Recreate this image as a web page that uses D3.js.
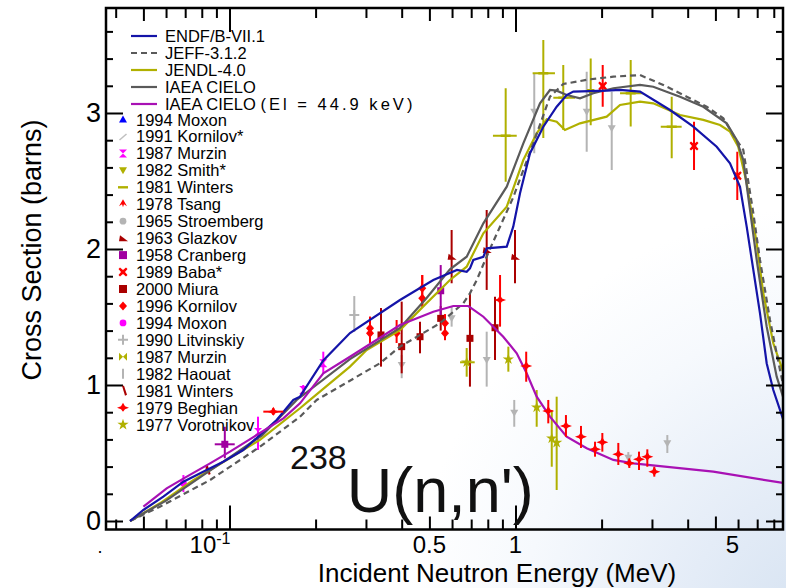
<!DOCTYPE html>
<html><head><meta charset="utf-8">
<script src="https://cdn.jsdelivr.net/npm/d3@7/dist/d3.min.js"></script>
<style>html,body{margin:0;padding:0;background:#fff}svg{display:block}</style>
</head><body>
<svg id="chart" width="786" height="588"></svg>
<script>
// ---------- evaluated curves [E (MeV), sigma (b)] ----------
const endfB71 = [[0.0449,0],[0.050,0.081],[0.0587,0.179],[0.069,0.289],[0.0832,0.375],[0.0951,0.436],[0.1117,0.522],[0.1278,0.632],[0.1462,0.743],[0.1672,0.89],[0.1764,0.914],[0.2128,1.18],[0.2638,1.382],[0.3946,1.625],[0.516,1.772],[0.6245,1.846],[0.675,1.833],[0.693,1.858],[0.712,1.919],[0.772,1.943],[0.793,2.005],[0.932,2.017],[0.982,2.164],[1.037,2.41],[1.124,2.704],[1.251,2.899],[1.393,3.046],[1.51,3.132],[1.593,3.157],[2.084,3.164],[2.32,3.17],[2.725,3.157],[3.47,3.022],[4.185,2.899],[5.052,2.752],[5.623,2.63],[6.095,2.458],[6.432,2.164],[6.785,1.846],[7.16,1.527],[7.555,1.16],[7.969,0.963],[8.616,0.75]];
const jeff312 = [[0.0449,0],[0.0571,0.105],[0.0855,0.301],[0.1278,0.546],[0.1764,0.767],[0.2018,0.89],[0.3358,1.16],[0.3946,1.282],[0.5445,1.454],[0.657,1.601],[0.693,1.674],[0.732,1.772],[0.814,2.0],[0.982,2.38],[1.154,2.777],[1.32,3.12],[1.469,3.213],[1.822,3.248],[2.198,3.267],[2.725,3.279],[3.288,3.206],[3.969,3.12],[4.662,3.046],[5.329,2.961],[5.774,2.838],[6.258,2.728],[6.785,2.263],[7.16,1.919],[7.76,1.478],[8.411,1.11],[8.63,1.0]];
const jendl40 = [[0.0449,0],[0.0571,0.13],[0.0747,0.301],[0.0977,0.449],[0.1278,0.596],[0.1764,0.829],[0.1912,0.89],[0.2638,1.135],[0.3017,1.257],[0.3946,1.404],[0.476,1.578],[0.59,1.772],[0.675,1.87],[0.772,2.115],[0.932,2.311],[1.065,2.654],[1.186,2.851],[1.286,2.954],[1.393,2.936],[1.489,2.875],[1.681,2.924],[2.084,2.973],[2.32,3.059],[2.725,3.083],[3.032,3.071],[3.76,2.985],[4.536,2.949],[5.188,2.912],[5.623,2.863],[6.011,2.752],[6.432,2.483],[6.973,2.042],[7.352,1.674],[7.969,1.307],[8.616,1.1]];
const cielo = [[0.0449,0],[0.06,0.15],[0.08,0.33],[0.1004,0.47],[0.13,0.63],[0.1718,0.89],[0.2638,1.19],[0.3946,1.42],[0.489,1.64],[0.59,1.85],[0.675,1.943],[0.772,2.189],[0.932,2.458],[1.065,2.777],[1.218,3.071],[1.32,3.169],[1.393,3.164],[1.51,3.132],[1.681,3.108],[1.871,3.145],[2.198,3.182],[2.725,3.206],[3.032,3.193],[3.76,3.12],[4.536,3.046],[5.476,2.924],[5.934,2.801],[6.258,2.654],[6.606,2.287],[6.973,1.919],[7.555,1.429],[8.19,1.061],[8.616,0.914]];
const cieloEl = [[0.050,0.105],[0.0603,0.24],[0.0709,0.326],[0.0855,0.424],[0.1004,0.51],[0.1245,0.632],[0.1543,0.755],[0.1764,0.865],[0.2128,1.086],[0.2638,1.208],[0.3946,1.441],[0.516,1.539],[0.606,1.581],[0.684,1.581],[0.772,1.502],[0.906,1.355],[1.01,1.233],[1.094,1.086],[1.186,0.914],[1.32,0.767],[1.51,0.62],[1.774,0.535],[2.198,0.449],[2.582,0.424],[3.201,0.404],[4.916,0.363],[8.616,0.28]];

// ---------- experimental data [E, sigma, sigLo, sigHi, (Elo, Ehi)] ----------
const kornilov1991 = [[1.163,3.01,2.704,3.292],[1.774,3.01,2.715,3.304],[2.17,2.888,2.581,3.157]];
const murzin1987m = [[0.1258,0.654,0.522,0.767],[0.2128,1.16,1.086,1.245],[0.181,0.963,0.92,1.0]];
const winters1981o = [[0.924,2.833,2.495,3.182,0.834,1.01],[1.251,3.292,2.816,3.537,1.148,1.374],[1.469,3.113,2.875,3.353,1.356,1.614],[2.528,3.145,2.9,3.39,2.32,2.79],[3.517,2.899,2.667,3.12,3.22,3.81]];
const smith1982 = [[1.832,3.154,2.91,3.40]];
const glazkov1963 = [[0.598,1.943,1.748,2.14],[0.793,1.993,1.699,2.287],[0.996,1.943,1.748,2.14]];
const cranberg1958 = [[0.5476,1.693,1.515,1.882],[0.0963,0.564,0.461,0.693,0.0888,0.1043]];
const baba1989 = [[2.018,3.199,3.046,3.353],[4.209,2.757,2.581,2.936],[5.963,2.539,2.36,2.715]];
const miura2000 = [[0.3386,1.368,1.135,1.566],[0.4,1.282,1.086,1.613],[0.4636,1.355,1.233,1.465],[0.5476,1.49,1.4,1.58],[0.693,1.343,0.988,1.674],[0.848,1.421,1.184,1.649]];
const kornilov1996 = [[0.31,1.417,1.307,1.502],[0.31,1.38,1.307,1.502],[0.384,1.38,1.309,1.478],[0.472,1.711,1.576,1.809],[0.472,1.638,1.576,1.809],[0.567,1.454,1.33,1.52],[0.567,1.38,1.33,1.52]];
const moxon1994c = [[0.069,0.277,0.213,0.338]];
const litvinskiy1990 = [[0.2731,1.515,1.39,1.654]];
const haouat1982 = [[0.4,1.147,1.05,1.22],[0.598,1.49,1.429,1.576],[0.793,1.184,0.988,1.392],[0.99,0.796,0.693,0.89],[2.48,0.465,0.426,0.507],[3.395,0.571,0.5,0.632]];
const winters1981r = [[0.0832,0.375,0.35,0.40]];
const beghian1979 = [[0.1423,0.804,0.78,0.83,0.1313,0.1543],[0.883,1.625,1.429,1.809],[1.09,1.14,1.024,1.245],[1.302,0.809,0.718,0.89],[1.501,0.699,0.62,0.779],[1.694,0.62,0.537,0.699],[1.897,0.527,0.473,0.583],[2.012,0.579,0.51,0.647],[2.288,0.49,0.412,0.574],[2.5,0.424,0.39,0.46],[2.703,0.454,0.375,0.51],[2.89,0.473,0.399,0.527],[3.057,0.3625,0.326,0.399]];
const vorotnikov1977 = [[0.675,1.167,1.061,1.272,0.64,0.72],[0.944,1.189,1.098,1.282],[1.186,0.836,0.693,0.963],[1.339,0.608,0.399,0.816],[1.393,0.576,0.228,0.914]];

// ---------- labels ----------
const lineNames = ["ENDF/B-VII.1","JEFF-3.1.2","JENDL-4.0","IAEA CIELO",["IAEA CIELO ","(El = 44.9 keV)"]];
const markerNames = ["1994 Moxon","1991 Kornilov*","1987 Murzin","1982 Smith*","1981 Winters","1978 Tsang","1965 Stroemberg","1963 Glazkov","1958 Cranberg","1989 Baba*","2000 Miura","1996 Kornilov","1994 Moxon","1990 Litvinskiy","1987 Murzin","1982 Haouat","1981 Winters","1979 Beghian","1977 Vorotnikov"];
const yTicks = [0,1,2,3];
const xLabels = [[0.1,"10","-1"],[0.5,"0.5"],[1,"1"],[5,"5"]];
const xTitle = "Incident Neutron Energy (MeV)";
const yTitle = "Cross Section (barns)";

// ---------- drawing ----------
const svg = d3.select("#chart");
const W=786,H=588, L=106,R=783,T=8,B=529.5;
const x = d3.scaleLog().domain([0.037,8.616]).range([L,R]);
const y = d3.scaleLinear().domain([-0.0625,3.772]).range([B,T]);
const FONT = "'Liberation Sans', Arial, Helvetica, sans-serif";

const defs = svg.append("defs");
const grad = defs.append("radialGradient").attr("id","bg").attr("gradientUnits","userSpaceOnUse")
  .attr("cx",840).attr("cy",640).attr("r",640);
grad.append("stop").attr("offset","0").attr("stop-color","#d2e0f0");
grad.append("stop").attr("offset","0.25").attr("stop-color","#e4ecf7");
grad.append("stop").attr("offset","0.5").attr("stop-color","#f6f9fd");
grad.append("stop").attr("offset","0.68").attr("stop-color","#ffffff");
svg.append("rect").attr("width",W).attr("height",H).attr("fill","url(#bg)");
defs.append("clipPath").attr("id","clip").append("rect").attr("x",L).attr("y",T).attr("width",R-L).attr("height",B-T);

const plot = svg.append("g").attr("clip-path","url(#clip)");
const line = d3.line().x(d=>x(d[0])).y(d=>y(d[1]));

const curves = [
  {d:jendl40, c:"#b0b000", dash:null},
  {d:jeff312, c:"#5a5a5a", dash:"6,4"},
  {d:cielo, c:"#5a5a5a", dash:null},
  {d:endfB71, c:"#1414a8", dash:null},
  {d:cieloEl, c:"#a811b4", dash:null}
];

const S = {
  triUp: "M0,-4L4,3L-4,3Z",
  triDown: "M0,4L4,-3L-4,-3Z",
  slash: "M-4,3L3,-3L4,-2L-3,4Z",
  bowV: "M-4,-4L4,-4L-4,4L4,4Z",
  bowH: "M-4,-4L-4,4L4,-4L4,4Z",
  dash: "M-5,-1.2H5V1.2H-5Z",
  arrow: "M0,-5L4,2L1,0L0,3L-1,0L-4,2Z",
  circle: d3.symbol(d3.symbolCircle,36)(),
  half: "M-4,3L5,3L-3,-3Z",
  square: "M-4,-4H4V4H-4Z",
  sqS: "M-3.5,-3.5H3.5V3.5H-3.5Z",
  xcross: "M-4.5,-3L-3,-4.5L0,-2L3,-4.5L4.5,-3L2,0L4.5,3L3,4.5L0,2L-3,4.5L-4.5,3L-2,0Z",
  diamond: "M0,-4.5L4,0L0,4.5L-4,0Z",
  plus: "M-5,-1H-1V-5H1V-1H5V1H1V5H-1V1H-5Z",
  vbar: "M-1,-5H1V5H-1Z",
  sbar: "M-1,-5L1,-5L4,4L2,5Z",
  hat: "M-6,0L-2,-1.5L0,-5L2,-1.5L6,0L2,1.5L0,4L-2,1.5Z",
  star: d3.symbol(d3.symbolStar,40)()
};

function drawLine(c){
  const p = plot.append("path").attr("d",line(c.d)).attr("fill","none").attr("stroke",c.c).attr("stroke-width",2.2);
  if(c.dash) p.attr("stroke-dasharray",c.dash);
}
function drawSeries(data,color,shape,opts={}){
  const g = plot.append("g");
  data.forEach(d=>{
    const px=x(d[0]), py=y(d[1]);
    if(d.length>=4) g.append("line").attr("x1",px).attr("x2",px).attr("y1",y(d[2])).attr("y2",y(d[3])).attr("stroke",color).attr("stroke-width",2);
    if(d.length>=6) g.append("line").attr("x1",x(d[4])).attr("x2",x(d[5])).attr("y1",py).attr("y2",py).attr("stroke",opts.hcolor||color).attr("stroke-width",2);
    g.append("path").attr("d",S[shape]).attr("transform",`translate(${px},${py})`).attr("fill",opts.fill||color);
  });
}

drawSeries(haouat1982,"#b4b4b4","triDown");
drawSeries(kornilov1991,"#b4b4b4","triDown");
drawSeries(litvinskiy1990,"#b4b4b4","plus");
drawSeries(winters1981o,"#b0b000","dash");
drawSeries(smith1982,"#b0b000","triDown");
drawSeries(glazkov1963,"#aa0000","half");
drawSeries(miura2000,"#aa0000","sqS");
drawSeries(winters1981r,"#aa0000","sbar");
drawSeries(kornilov1996,"#ff0000","diamond");
drawSeries(baba1989,"#ff0000","xcross");
drawSeries(cranberg1958,"#a000a0","sqS");
drawSeries(murzin1987m,"#ff00ff","bowV");
drawSeries(moxon1994c,"#ff00ff","circle");
drawSeries(vorotnikov1977,"#b0b000","star");
curves.forEach(drawLine);
drawSeries(beghian1979,"#ff0000","hat");

// ---------- axes ----------
const ax = svg.append("g").attr("fill","none").attr("stroke","#000");
ax.append("rect").attr("x",L).attr("y",T).attr("width",R-L).attr("height",B-T).attr("stroke-width",2.5);

const xMinor = [];
[0.01,0.1,1].forEach(dec=>{ for(let k=1;k<10;k++){ const v=k*dec; if(v>=0.037 && v<=8.616) xMinor.push(v);} });
const xlen = v => (Math.abs(v-0.1)<1e-9||Math.abs(v-1)<1e-9)?24 : (Math.abs(v-0.5)<1e-9||Math.abs(v-5)<1e-9||Math.abs(v-0.05)<1e-9)?13:10;
const gxb = svg.append("g").attr("transform",`translate(0,${B})`).call(d3.axisBottom(x).tickValues(xMinor).tickFormat("").tickSizeOuter(0));
gxb.select(".domain").remove();
gxb.selectAll(".tick line").attr("y2",d=>-xlen(d)).attr("stroke-width",2);
const gxt = svg.append("g").attr("transform",`translate(0,${T})`).call(d3.axisTop(x).tickValues(xMinor).tickFormat("").tickSizeOuter(0));
gxt.select(".domain").remove();
gxt.selectAll(".tick line").attr("y2",d=>xlen(d)).attr("stroke-width",2);

const yAll = d3.range(0,3.8,0.2).map(v=>+v.toFixed(1));
const ylen = v => (Math.abs(v-Math.round(v))<1e-9)?17:7;
const gyl = svg.append("g").attr("transform",`translate(${L},0)`).call(d3.axisLeft(y).tickValues(yAll).tickFormat("").tickSizeOuter(0));
gyl.select(".domain").remove();
gyl.selectAll(".tick line").attr("x2",d=>ylen(d)).attr("stroke-width",2);
const gyr = svg.append("g").attr("transform",`translate(${R},0)`).call(d3.axisRight(y).tickValues(yAll).tickFormat("").tickSizeOuter(0));
gyr.select(".domain").remove();
gyr.selectAll(".tick line").attr("x2",d=>-ylen(d)).attr("stroke-width",2);

// tick labels
const tl = svg.append("g").attr("font-family",FONT).attr("fill","#000");
yTicks.forEach(v=>{
  tl.append("text").attr("x",L-5).attr("y",y(v)+9.5).attr("text-anchor","end").attr("font-size",27).text(v);
});
xLabels.forEach(l=>{
  const px = x(l[0]);
  if(l[2]){
    const t = tl.append("text").attr("x",px+1).attr("y",553).attr("text-anchor","end").attr("font-size",24);
    t.append("tspan").text(l[1]);
    t.append("tspan").attr("dy",-9).attr("font-size",16).text(l[2]);
  } else {
    const off = l[0]===5?17:0;
    tl.append("text").attr("x",px+off).attr("y",553).attr("text-anchor","middle").attr("font-size",24).text(l[1]);
  }
});
tl.append("text").attr("x",L-6).attr("y",553).attr("text-anchor","middle").attr("font-size",18).text(".");

// titles
svg.append("text").attr("x",497).attr("y",582).attr("text-anchor","middle").attr("font-family",FONT).attr("font-size",26).text(xTitle);
svg.append("text").attr("transform","translate(41,250) rotate(-90)").attr("text-anchor","middle").attr("font-family",FONT).attr("font-size",27).text(yTitle);

// big reaction label
const big = svg.append("text").attr("x",290).attr("y",512).attr("font-family",FONT).attr("fill","#111");
big.append("tspan").attr("font-size",34).attr("dy",-43).text("238");
big.append("tspan").attr("font-size",63).attr("dy",43).text("U(n,n')");

// ---------- legend ----------
const lg = svg.append("g").attr("font-family",FONT).attr("font-size",16.5);
const lineStyles = [{c:"#1414a8"},{c:"#5a5a5a",dash:"6,4"},{c:"#b0b000"},{c:"#5a5a5a"},{c:"#a811b4"}];
lineNames.forEach((n,i)=>{
  const yy = 36 + i*17;
  const p = lg.append("line").attr("x1",131).attr("x2",157).attr("y1",yy).attr("y2",yy).attr("stroke",lineStyles[i].c).attr("stroke-width",2.2);
  if(lineStyles[i].dash) p.attr("stroke-dasharray",lineStyles[i].dash);
  const t = lg.append("text").attr("x",165).attr("y",yy+6);
  if(Array.isArray(n)){
    t.append("tspan").text(n[0]);
    t.append("tspan").attr("textLength",152).attr("lengthAdjust","spacing").text(n[1]);
  } else t.text(n);
});
const markerStyles = [
  {c:"#0000ff",s:"triUp"},{c:"#c0c0c0",s:"slash"},{c:"#ff00ff",s:"bowV"},{c:"#b0b000",s:"triDown"},{c:"#b0b000",s:"dash"},
  {c:"#ff0000",s:"arrow"},{c:"#b4b4b4",s:"circle"},{c:"#aa0000",s:"half"},{c:"#a000a0",s:"square"},{c:"#ff0000",s:"xcross"},
  {c:"#aa0000",s:"square"},{c:"#ff0000",s:"diamond"},{c:"#ff00ff",s:"circle"},{c:"#b4b4b4",s:"plus"},{c:"#b0b000",s:"bowH"},
  {c:"#b4b4b4",s:"vbar"},{c:"#aa0000",s:"sbar"},{c:"#ff0000",s:"hat"},{c:"#b0b000",s:"star"}
];
markerNames.forEach((n,i)=>{
  const yy = 119.5 + i*16.95;
  lg.append("path").attr("d",S[markerStyles[i].s]).attr("transform",`translate(123,${yy})`).attr("fill",markerStyles[i].c);
  lg.append("text").attr("x",136).attr("y",yy+6).text(n);
});
</script>
</body></html>
